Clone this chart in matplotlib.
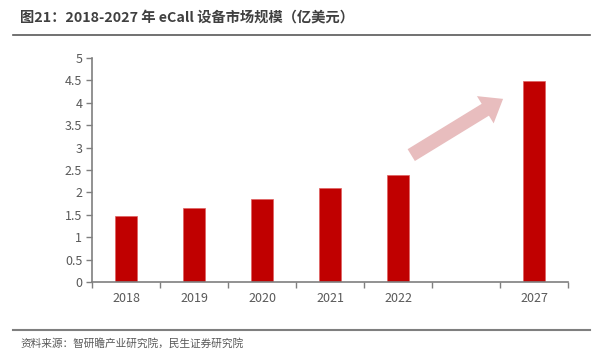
import matplotlib
matplotlib.use("Agg")
import matplotlib.pyplot as plt
from matplotlib.patches import FancyArrowPatch
from matplotlib.lines import Line2D
import numpy as np

plt.rcParams["font.family"] = ["Noto Sans CJK SC", "DejaVu Sans"]

years = ["2018", "2019", "2020", "2021", "2022", "", "2027"]
values = [1.47, 1.66, 1.85, 2.10, 2.38, np.nan, 4.48]
title = "图21：2018-2027 年 eCall 设备市场规模（亿美元）"
source = "资料来源：智研瞻产业研究院，民生证券研究院"

BAR_RED = "#C00000"
GREY_TXT = "#595959"
AXIS_GREY = "#7F7F7F"

fig = plt.figure(figsize=(5.98, 3.54), dpi=100)
ax = fig.add_axes([92 / 598, 72 / 354, 476 / 598, 224 / 354])

x = np.arange(len(years))
ax.bar(x, values, width=0.31, color=BAR_RED, edgecolor="#E06060", linewidth=0.5, zorder=2)

ax.set_xlim(-0.5, len(years) - 0.5)
ax.set_ylim(0, 5)
ax.set_yticks(np.arange(0, 5.01, 0.5))
ax.set_yticklabels(["0", "0.5", "1", "1.5", "2", "2.5", "3", "3.5", "4", "4.5", "5"])
ax.set_xticks(x)
ax.set_xticklabels(years)
ax.set_xticks(np.arange(-0.5, len(years)), minor=True)
ax.tick_params(axis="x", which="major", length=0, pad=7, labelsize=9, labelcolor=GREY_TXT)
ax.tick_params(axis="x", which="minor", length=4, color=AXIS_GREY, width=1)
ax.tick_params(axis="y", length=4, color=AXIS_GREY, width=1, pad=3, labelsize=9, labelcolor=GREY_TXT)
for s in ["top", "right"]:
    ax.spines[s].set_visible(False)
for s in ["left", "bottom"]:
    ax.spines[s].set_color(AXIS_GREY)
    ax.spines[s].set_linewidth(1.2)

# growth arrow between 2022 and 2027
arrow = FancyArrowPatch((4.16, 2.80), (5.58, 4.12),
                        arrowstyle="simple,head_length=15,head_width=23,tail_width=10",
                        color="#E8BDBE", lw=0, zorder=3, mutation_scale=1)
ax.add_patch(arrow)

# title, separators, source
fig.text(20 / 598, 1 - 18 / 354, title, fontsize=10.3, fontweight="bold", color="#404040",
         va="center", ha="left")
fig.add_artist(Line2D([13 / 598, 590 / 598], [1 - 35 / 354] * 2, color="#595959", lw=1.2))
fig.add_artist(Line2D([13 / 598, 590 / 598], [1 - 330 / 354] * 2, color="#7F7F7F", lw=1.5))
fig.text(20 / 598, 1 - 343 / 354, source, fontsize=7.7, color=GREY_TXT, va="center", ha="left")

fig.savefig("out.png", dpi=100)
